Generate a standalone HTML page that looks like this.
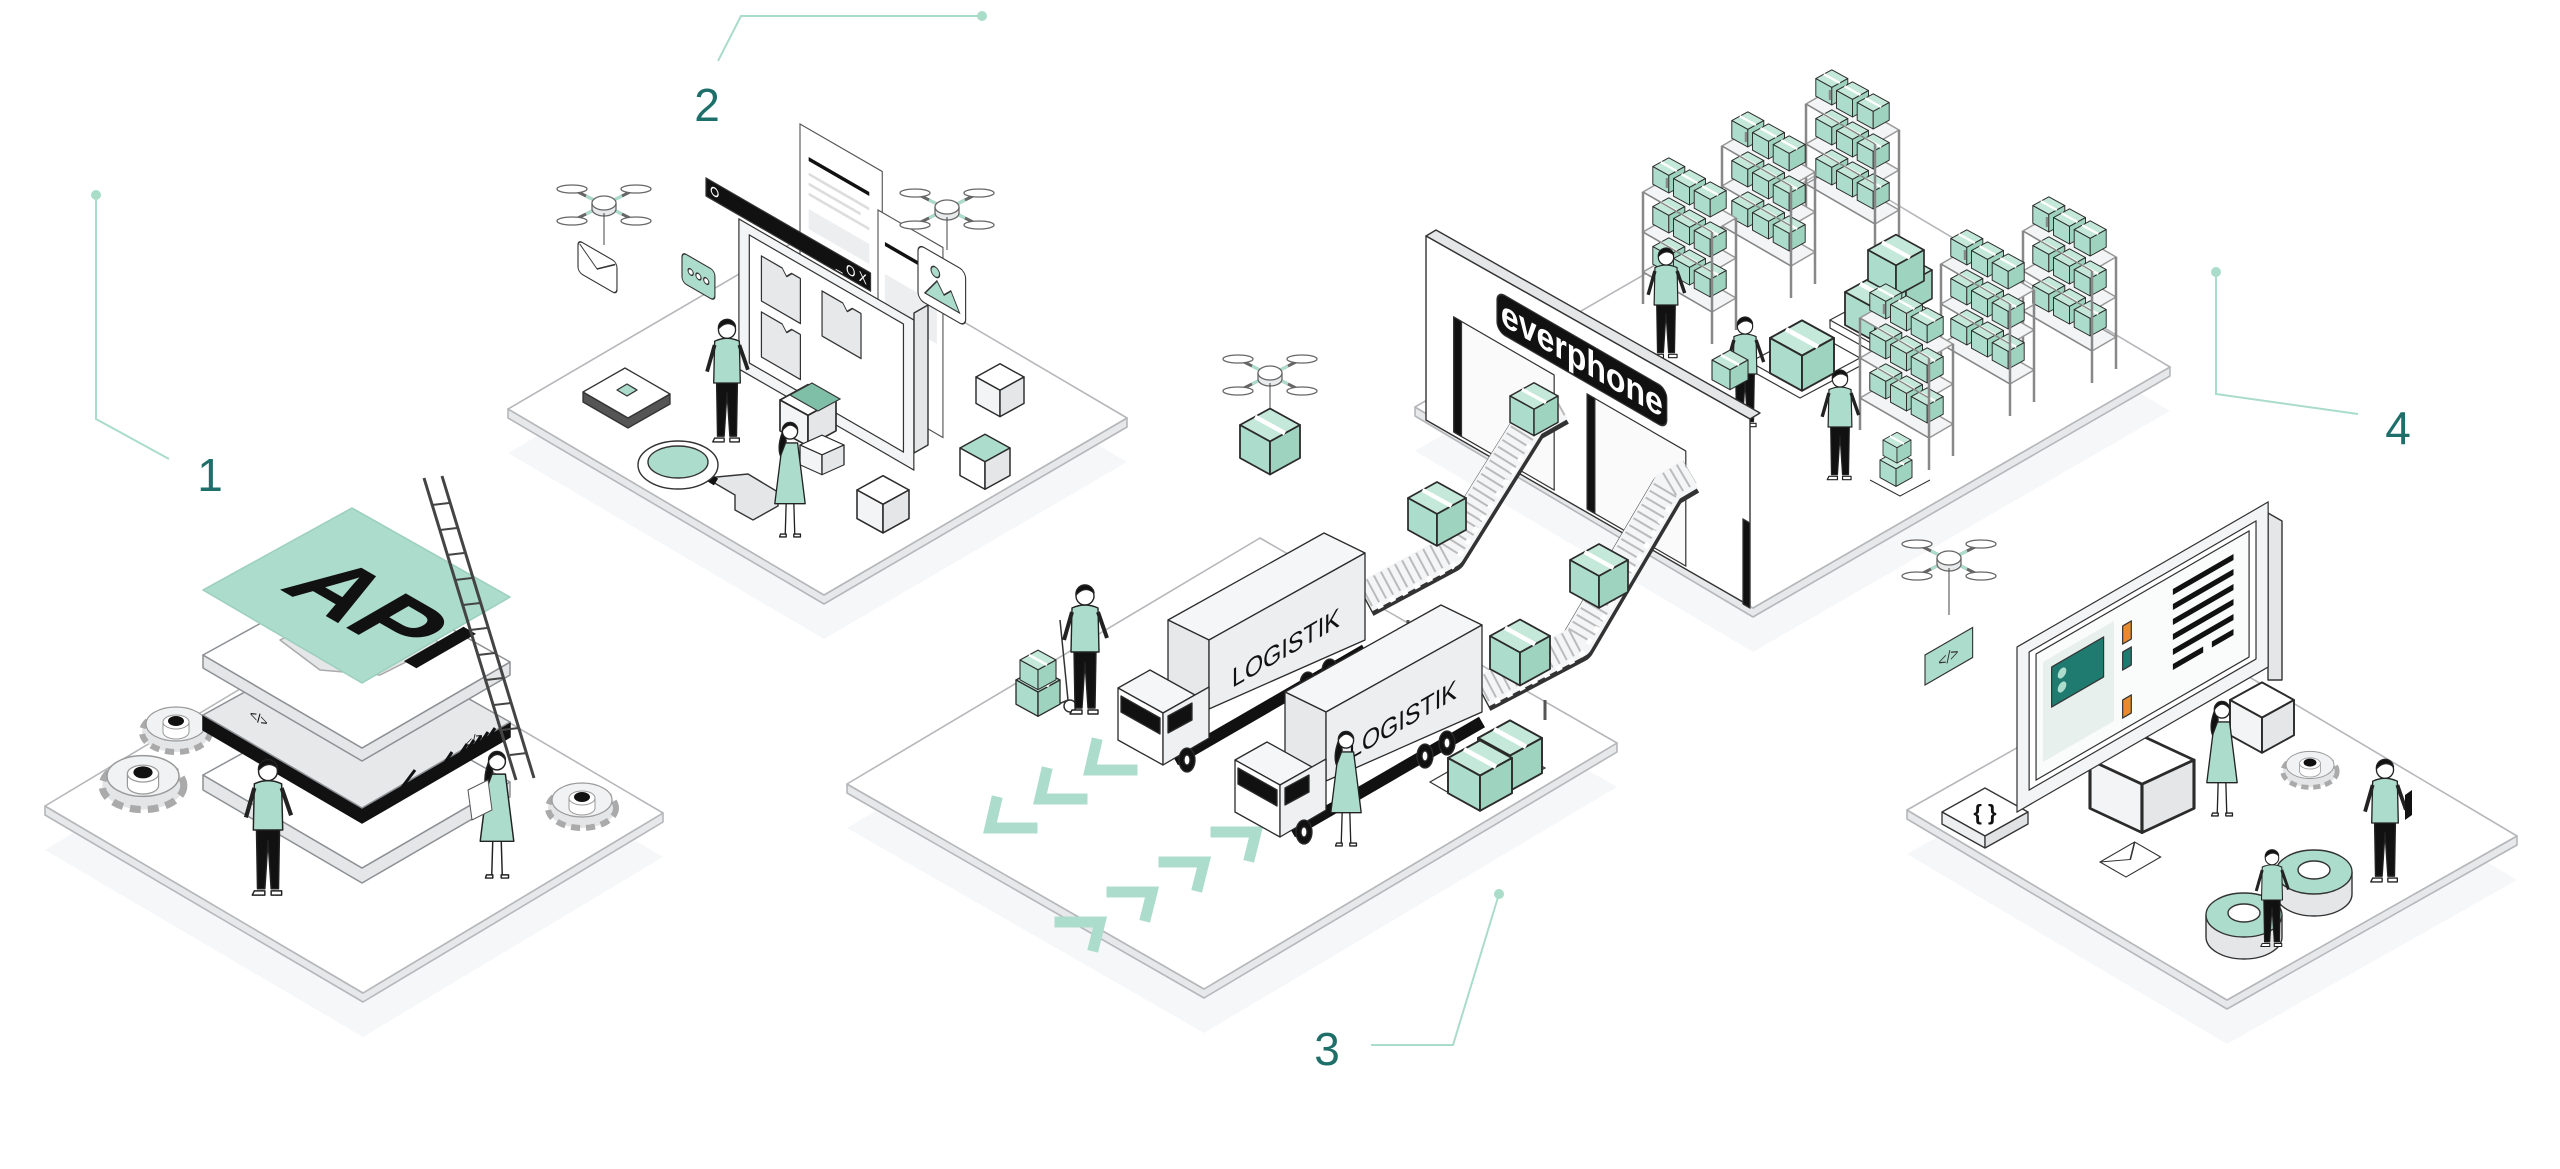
<!DOCTYPE html>
<html><head><meta charset="utf-8"><style>
html,body{margin:0;padding:0;background:#fff;}
svg{display:block;}
text{font-family:"Liberation Sans",sans-serif;}
</style></head><body>
<svg width="2560" height="1169" viewBox="0 0 2560 1169" xmlns="http://www.w3.org/2000/svg">
<defs>
<g id="gb" stroke="#2b2b2b" stroke-width="1.2" stroke-linejoin="round">
<path d="M0,0 L20,-11 L40,0 L20,11Z" fill="#c4e9db"/>
<path d="M0,0 L20,11 L20,33 L0,22Z" fill="#acdccb"/>
<path d="M20,11 L40,0 L40,22 L20,33Z" fill="#9ed3bf"/>
<path d="M10,-5.5 L30,5.5" stroke="#fff" stroke-width="3"/>
</g>
<g id="wb" stroke="#2b2b2b" stroke-width="1.2" stroke-linejoin="round">
<path d="M0,0 L20,-11 L40,0 L20,11Z" fill="#fff"/>
<path d="M0,0 L20,11 L20,33 L0,22Z" fill="#f3f4f5"/>
<path d="M20,11 L40,0 L40,22 L20,33Z" fill="#e4e6e8"/>
</g>
<g id="gtop" stroke="#2b2b2b" stroke-width="1.2" stroke-linejoin="round">
<path d="M0,0 L20,-11 L40,0 L20,11Z" fill="#acdccb"/>
<path d="M0,0 L20,11 L20,33 L0,22Z" fill="#fff"/>
<path d="M20,11 L40,0 L40,22 L20,33Z" fill="#e4e6e8"/>
</g>
<g id="man" stroke="#222" stroke-width="1.4" stroke-linejoin="round">
<path d="M-11,-62 L-10,-4 L-3,-4 L0,-50 L3,-4 L10,-4 L11,-62Z" fill="#111"/>
<path d="M-13,-2 h10 v4 h-12z M3,-2 h10 v4 h-10z" fill="#fff"/>
<path d="M-13,-104 Q0,-110 13,-104 L14,-60 L-14,-60Z" fill="#acdccb"/>
<path d="M-13,-100 L-21,-72 M13,-100 L22,-74" fill="none" stroke-width="4"/>
<circle cx="0" cy="-116" r="9" fill="#fff"/>
<path d="M-9,-117 A9,9 0 0 1 9,-119 Q0,-127 -9,-117Z" fill="#111"/>
</g>
<g id="woman" stroke="#222" stroke-width="1.4" stroke-linejoin="round">
<path d="M-4,-36 L-5,-2 M4,-36 L5,-2" fill="none"/>
<path d="M-10,-2 h6 v3 h-7z M4,-2 h7 v3 h-7z" fill="#fff"/>
<path d="M-8,-98 L8,-98 L16,-34 L-16,-34Z" fill="#acdccb"/>
<path d="M-7,-112 Q-14,-95 -10,-84 L-4,-100Z" fill="#111"/>
<circle cx="0" cy="-110" r="8" fill="#fff"/>
<path d="M-8,-111 A8,8 0 0 1 8,-112 Q0,-122 -8,-111Z" fill="#111"/>
</g>
<g id="drone" stroke="#666" stroke-width="1.3" fill="#fff">
<path d="M-32,-16 L32,16 M-32,16 L32,-16" stroke-width="3" fill="none"/>
<path d="M-18,-9 L-8,-4 M18,-9 L8,-4 M-18,9 L-8,4 M18,9 L8,4" stroke="#acdccb" stroke-width="3"/>
<ellipse cx="-32" cy="-16" rx="15" ry="4"/><ellipse cx="32" cy="-16" rx="15" ry="4"/>
<ellipse cx="-32" cy="16" rx="15" ry="4"/><ellipse cx="32" cy="16" rx="15" ry="4"/>
<path d="M-12,-2 v6 a12,7 0 0 0 24,0 v-6" fill="#e8eaec"/>
<ellipse cx="0" cy="-2" rx="12" ry="7"/>
</g>
<g id="gear">
<ellipse cx="0" cy="8" rx="34" ry="20" fill="#e3e5e7" stroke="#aaa" stroke-width="6" stroke-dasharray="9 6"/>
<ellipse cx="0" cy="0" rx="30" ry="17" fill="#f1f2f3" stroke="#999" stroke-width="1.2"/>
<path d="M-13,-2 v10 a13,7 0 0 0 26,0 v-10" fill="#fff" stroke="#999"/>
<ellipse cx="0" cy="-2" rx="13" ry="7" fill="#fff" stroke="#999"/>
<ellipse cx="0" cy="-3" rx="8" ry="5" fill="#111"/>
</g>
<g id="shelf">
<g stroke="#999" stroke-width="1.5" fill="#f3f4f5">
<path d="M0,0 L69,40 L93,26 L24,-14Z"/>
<path d="M0,40 L69,80 L93,66 L24,26Z"/>
<path d="M0,80 L69,120 L93,106 L24,66Z"/>
</g>
<use href="#gb" transform="translate(9.8,-25.4) scale(.8)"/><use href="#gb" transform="translate(30.5,-13.4) scale(.8)"/><use href="#gb" transform="translate(51.2,-1.4) scale(.8)"/>
<use href="#gb" transform="translate(9.8,14.6) scale(.8)"/><use href="#gb" transform="translate(30.5,26.6) scale(.8)"/><use href="#gb" transform="translate(51.2,38.6) scale(.8)"/>
<use href="#gb" transform="translate(9.8,54.6) scale(.8)"/><use href="#gb" transform="translate(30.5,66.6) scale(.8)"/><use href="#gb" transform="translate(51.2,78.6) scale(.8)"/>
<g stroke="#888" stroke-width="2.5" fill="none">
<path d="M0,0 V112 M69,40 V152 M93,26 V138 M24,-14 V-4"/>
<path d="M0,0 L69,40 M0,40 L69,80 M0,80 L69,120" stroke-width="1.5"/>
</g>
</g>
<g id="truck" stroke="#2b2b2b" stroke-width="1.3" stroke-linejoin="round">
<path d="M1175,760 L1365,650" stroke="#111" stroke-width="12"/>
<path d="M1168,620 L1324,533 L1365,553 L1209,640Z" fill="#f5f6f7"/>
<path d="M1168,620 L1209,640 L1209,709 L1168,689Z" fill="#e6e8ea"/>
<path d="M1209,640 L1365,553 L1365,640 L1209,709Z" fill="#eceef0"/>
<path d="M1118,688 L1150,670 L1195,695 L1163,713Z" fill="#f5f6f7"/>
<path d="M1118,688 L1163,713 L1163,765 L1118,740Z" fill="#fff"/>
<path d="M1163,713 L1209,687 L1209,738 L1163,765Z" fill="#eef0f1"/>
<path d="M1121,696 L1160,718 L1160,734 L1121,712Z" fill="#111"/>
<path d="M1168,716 L1192,703 L1192,720 L1168,733Z" fill="#111"/>
<ellipse cx="1187" cy="760" rx="8" ry="12" fill="#111"/><ellipse cx="1187" cy="760" rx="3" ry="5" fill="#fff"/>
<ellipse cx="1308" cy="684" rx="8" ry="12" fill="#111"/><ellipse cx="1308" cy="684" rx="3" ry="5" fill="#fff"/>
<ellipse cx="1330" cy="671" rx="8" ry="12" fill="#111"/><ellipse cx="1330" cy="671" rx="3" ry="5" fill="#fff"/>
</g>
</defs>

<g stroke="#a9dcc9" stroke-width="2" fill="none">
<path d="M96,195 V419 L169,459"/>
<path d="M718,61 L741,16 H982"/>
<path d="M1499,894 L1453,1045 H1371"/>
<path d="M2216,272 V394 L2358,414"/>
</g>
<g fill="#a9dcc9"><circle cx="96" cy="195" r="5"/><circle cx="982" cy="16" r="5"/><circle cx="1499" cy="894" r="5"/><circle cx="2216" cy="272" r="5"/></g>
<g fill="#1e6f6a" font-size="46" text-anchor="middle">
<text x="210" y="491">1</text><text x="707" y="121">2</text><text x="1327" y="1065">3</text><text x="2398" y="444">4</text>
</g>

<g fill="#f6f7f9">
<path d="M45,850 L345,670 L663,857 L363,1037Z"/>
<path d="M508,453 L811,276 L1127,462 L824,639Z"/>
<path d="M847,828 L1260,582 L1617,787 L1204,1033Z"/>
<path d="M1415,451 L1832,210 L2170,411 L1753,652Z"/>
<path d="M1907,854 L2197,690 L2517,880 L2227,1044Z"/>
</g>

<g stroke="#b5b7ba" stroke-width="1.6" stroke-linejoin="round">
<path d="M45,806 L363,993 L663,813 L663,822 L363,1002 L45,815Z" fill="#e6e8ea"/>
<path d="M45,806 L345,626 L663,813 L363,993Z" fill="#fff"/>
</g>
<use href="#gear" transform="translate(176,724)"/>
<use href="#gear" transform="translate(143,776) scale(1.2)"/>
<use href="#gear" transform="translate(582,800)"/>
<g stroke="#8d9094" stroke-width="1.5" stroke-linejoin="round">
<g transform="translate(0,185)"><path d="M203,590 L362,683 L510,597 L510,612 L362,698 L203,605Z" fill="#e4e6e8"/><path d="M203,590 L352,508 L510,597 L362,683Z" fill="#fff"/></g>
<g transform="translate(0,125)"><path d="M203,590 L362,683 L510,597 L510,612 L362,698 L203,605Z" fill="#111" stroke="#111"/><path d="M203,590 L352,508 L510,597 L362,683Z" fill="#e6e8ea"/></g>
<g transform="translate(0,65)"><path d="M203,590 L362,683 L510,597 L510,610 L362,696 L203,603Z" fill="#e4e6e8"/><path d="M203,590 L352,508 L510,597 L362,683Z" fill="#fff"/></g>
<path d="M280,615 L330,590 L380,612 L420,595 L440,620 L380,650 L320,645Z" fill="#e4e6e8" stroke="#aaa" transform="translate(0,25)"/>
<path d="M203,590 L352,508 L510,597 L362,683Z" fill="#acdccb" stroke="#9ccfbd"/>
</g>
<text transform="matrix(0.866,0.5,-0.866,0.5,350,630)" font-family="Liberation Mono" font-weight="bold" font-size="100" text-anchor="middle" fill="#111">API</text>
<g stroke="#111" stroke-width="3">
<path d="M400,790 L415,770 M408,795 L423,775 M440,770 L452,752 M455,762 L467,744 M462,758 L474,740 M469,754 L481,736 M476,750 L488,732 M483,746 L495,728"/>
</g>
<text transform="matrix(0.866,0.5,0,1,250,718)" font-family="Liberation Mono" font-size="14" fill="#111">&lt;/&gt;</text>
<text transform="matrix(0.866,-0.5,0,1,465,750)" font-family="Liberation Mono" font-size="14" fill="#111">&lt;/&gt;</text>
<g stroke="#444" stroke-width="2" fill="#fff">
<path d="M424,478 L516,780 M442,476 L534,778" fill="none" stroke-width="3"/>
<path d="M432,505 L449,503 M440,530 L457,528 M447,555 L464,553 M455,580 L472,578 M463,605 L480,603 M470,630 L487,628 M478,655 L495,653 M486,680 L503,678 M494,705 L511,703 M502,730 L519,728 M510,755 L527,753" fill="none"/>
</g>
<use href="#man" transform="translate(268,893) scale(1.05)"/>
<use href="#woman" transform="translate(497,877) scale(1.05)"/>
<path d="M468,790 L488,780 L492,810 L472,820Z" fill="#fff" stroke="#555"/>

<g stroke="#b5b7ba" stroke-width="1.6" stroke-linejoin="round">
<path d="M508,409 L824,595 L1127,418 L1127,427 L824,604 L508,418Z" fill="#e6e8ea"/>
<path d="M508,409 L811,232 L1127,418 L824,595Z" fill="#fff"/>
</g>
<g stroke="#555" stroke-width="1.3">
<g transform="matrix(0.866,0.5,0,1,800,164)"><rect x="0" y="-40" width="95" height="170" fill="#fff"/><path d="M10,-10 H80" stroke="#111" stroke-width="4"/><path d="M10,5 H80 M10,15 H70 M10,25 H80" stroke="#ddd" stroke-width="3"/><rect x="10" y="40" width="70" height="20" fill="#eceef0" stroke="none"/></g>
<g transform="matrix(0.866,0.5,0,1,878,250)"><rect x="0" y="-40" width="75" height="190" fill="#fff"/><path d="M8,-10 H70" stroke="#111" stroke-width="4"/><rect x="8" y="20" width="60" height="40" fill="#eceef0" stroke="none"/></g>
</g>
<g stroke="#333" stroke-width="1.4" stroke-linejoin="round">
<path d="M914,313 L928,305 L928,445 L914,453Z" fill="#e4e6e8"/>
<g transform="matrix(0.866,0.5,0,1,706,200)">
<rect x="38" y="0" width="202" height="150" fill="#f3f4f5"/>
<rect x="50" y="10" width="178" height="128" fill="#fff"/>
<path d="M64,24 h24 l5,6 l6,-6 h10 v45 h-45Z" fill="#e6e8ea"/>
<path d="M134,24 h24 l5,6 l6,-6 h10 v45 h-45Z" fill="#e6e8ea"/>
<path d="M64,80 h24 l5,6 l6,-6 h10 v45 h-45Z" fill="#e6e8ea"/>
<rect x="0" y="-22" width="190" height="18" fill="#111"/>
<text x="150" y="-8" fill="#fff" font-size="14" stroke="none">_ O X</text>
<circle cx="10" cy="-13" r="4" fill="none" stroke="#fff"/>
</g>
</g>
<use href="#wb" transform="translate(780,400) scale(1.4)"/>
<g stroke="#333" stroke-width="1.2"><path d="M790,395 L812,383 L840,399 L818,411Z" fill="#7fbfa8"/></g>
<use href="#wb" transform="translate(800,445) scale(1.1,0.9)"/>
<use href="#drone" transform="translate(604,205)"/>
<path d="M604,213 V245" stroke="#444"/>
<g transform="matrix(0.866,0.5,0,1,578,240)" stroke="#333" stroke-width="1.3"><rect x="0" y="0" width="45" height="32" rx="5" fill="#fff"/><path d="M2,3 L22,18 L43,3" fill="none"/></g>
<use href="#drone" transform="translate(947,209)"/>
<path d="M947,217 V250" stroke="#444"/>
<g transform="matrix(0.866,0.5,0,1,918,244)" stroke="#333" stroke-width="1.3"><rect x="0" y="0" width="55" height="55" rx="7" fill="#fff"/><circle cx="20" cy="18" r="5" fill="#acdccb"/><path d="M8,45 L22,26 L30,36 L38,28 L48,45Z" fill="#acdccb"/></g>
<g transform="matrix(0.866,0.5,0,1,682,252)" stroke="#333" stroke-width="1.3"><rect x="0" y="0" width="38" height="30" rx="5" fill="#acdccb"/><circle cx="10" cy="15" r="3" fill="#fff"/><circle cx="19" cy="15" r="3" fill="#fff"/><circle cx="28" cy="15" r="3" fill="#fff"/></g>
<g stroke="#333" stroke-width="1.3" stroke-linejoin="round">
<path d="M583,392 L583,402 L628,428 L670,404 L670,394 L628,418Z" fill="#555"/>
<path d="M583,392 L625,368 L670,394 L628,418Z" fill="#fff"/>
<path d="M617,390 L627,384 L637,390 L627,396Z" fill="#acdccb"/>
</g>
<g stroke="#333" stroke-width="1.4">
<path d="M706,478 L735,495 L735,510 L753,520 L778,506 L778,492 L748,474 Z" fill="#e4e6e8"/>
<path d="M700,472 L716,482" stroke="#111" stroke-width="8"/>
<ellipse cx="678" cy="465" rx="40" ry="24" fill="#fff"/>
<ellipse cx="678" cy="462" rx="30" ry="16" fill="#acdccb"/>
</g>
<use href="#wb" transform="translate(976,377) scale(1.2)"/>
<use href="#gtop" transform="translate(960,448) scale(1.25)"/>
<use href="#wb" transform="translate(857,490) scale(1.3)"/>
<use href="#man" transform="translate(727,440) scale(0.95)"/>
<use href="#woman" transform="translate(790,536) scale(0.95)"/>

<g stroke="#b5b7ba" stroke-width="1.6" stroke-linejoin="round">
<path d="M1415,407 L1753,608 L2170,367 L2170,376 L1753,617 L1415,416Z" fill="#e6e8ea"/>
<path d="M1415,407 L1832,166 L2170,367 L1753,608Z" fill="#fff"/>
</g>
<use href="#shelf" transform="translate(1806,104)"/>
<use href="#shelf" transform="translate(1722,146)"/>
<use href="#shelf" transform="translate(1643,192)"/>
<g stroke="#333" stroke-width="1.2" fill="#fff">
<path d="M1830,320 L1890,288 L1940,316 L1880,348Z M1830,320 V328 L1880,356 L1940,324 V316"/>
<path d="M1750,362 L1810,330 L1860,358 L1800,390Z M1750,362 V370 L1800,398 L1860,366 V358"/>
</g>
<use href="#gb" transform="translate(1845,292) scale(1.5)"/>
<use href="#gb" transform="translate(1880,270) scale(1.3)"/>
<use href="#gb" transform="translate(1868,250) scale(1.4)"/>
<use href="#gb" transform="translate(1770,338) scale(1.6)"/>
<use href="#shelf" transform="translate(2023,231)"/>
<use href="#shelf" transform="translate(1941,264)"/>
<use href="#shelf" transform="translate(1860,318)"/>
<use href="#man" transform="translate(1666,356) scale(0.85)"/>
<use href="#man" transform="translate(1745,425) scale(0.85)"/>
<use href="#gb" transform="translate(1712,360) scale(0.9)"/>
<use href="#man" transform="translate(1840,478) scale(0.85)"/>
<use href="#gb" transform="translate(1880,460) scale(0.8)"/>
<use href="#gb" transform="translate(1883,440) scale(0.7)"/>
<path d="M1870,480 L1900,496 L1930,480" stroke="#333" fill="none"/>
<g stroke="#333" stroke-width="1.4" stroke-linejoin="round">
<path d="M1426,236 L1436,230 L1760,413 L1750,419Z" fill="#e4e6e8"/>
<path d="M1426,236 L1750,419 L1750,606 L1426,420Z" fill="#fff"/>
<g transform="matrix(0.866,0.5,0,1,1426,236)">
<rect x="32" y="65" width="116" height="115" fill="#fafafa"/>
<rect x="32" y="65" width="9" height="115" fill="#111"/>
<rect x="186" y="65" width="114" height="115" fill="#fafafa"/>
<rect x="186" y="65" width="9" height="115" fill="#111"/>
<rect x="366" y="100" width="8" height="85" fill="#111"/>
<rect x="82" y="14" width="196" height="40" rx="9" fill="#111"/>
<text x="180" y="45" text-anchor="middle" font-size="37" font-weight="bold" fill="#fff" stroke="none">everphone</text>
</g>
</g>

<g stroke="#b5b7ba" stroke-width="1.6" stroke-linejoin="round">
<path d="M847,784 L1204,989 L1617,743 L1617,752 L1204,998 L847,793Z" fill="#e6e8ea"/>
<path d="M847,784 L1260,538 L1617,743 L1204,989Z" fill="#fff"/>
</g>
<g stroke="#acdccb" stroke-width="11" fill="none" stroke-linecap="square" stroke-linejoin="miter">
<path d="M996,802 L990,828 L1032,828"/><path d="M1046,773 L1040,799 L1082,799"/><path d="M1096,744 L1090,770 L1132,770"/><path d="M1146,715 L1140,741 L1182,741"/>
<path d="M1060,922 L1100,922 L1094,946"/><path d="M1112,892 L1152,892 L1146,916"/><path d="M1164,862 L1204,862 L1198,886"/><path d="M1216,832 L1256,832 L1250,856"/>
</g>
<g fill="none" stroke-linejoin="round">
<path d="M1365,600 L1449,555 L1530,425 L1560,408" stroke="#333" stroke-width="36"/>
<path d="M1365,597 L1449,552 L1530,422 L1560,405" stroke="#f4f5f6" stroke-width="32"/>
<path d="M1365,595 L1449,550 L1530,420 L1560,403" stroke="#bbb" stroke-width="26" stroke-dasharray="2 6"/>
<path d="M1365,614 L1452,567 L1534,438" stroke="#fff" stroke-width="5" stroke-dasharray="6 8"/>
<path d="M1482,695 L1577,645 L1668,490 L1690,477" stroke="#333" stroke-width="36"/>
<path d="M1482,692 L1577,642 L1668,487 L1690,474" stroke="#f4f5f6" stroke-width="32"/>
<path d="M1482,690 L1577,640 L1668,485 L1690,472" stroke="#bbb" stroke-width="26" stroke-dasharray="2 6"/>
<path d="M1482,709 L1580,657 L1672,503" stroke="#fff" stroke-width="5" stroke-dasharray="6 8"/>
</g>
<path d="M1408,620 V640 M1545,700 V720" stroke="#555" stroke-width="3"/>
<use href="#gb" transform="translate(1510,396) scale(1.2)"/>
<use href="#gb" transform="translate(1408,498) scale(1.45)"/>
<use href="#gb" transform="translate(1570,560) scale(1.45)"/>
<use href="#gb" transform="translate(1490,636) scale(1.5)"/>
<use href="#truck"/>
<text transform="matrix(0.866,-0.5,0,1,1232,688)" font-family="Liberation Mono" font-size="27" fill="#111">LOGISTIK</text>
<use href="#truck" transform="translate(117,72)"/>
<text transform="matrix(0.866,-0.5,0,1,1349,760)" font-family="Liberation Mono" font-size="27" fill="#111">LOGISTIK</text>
<g stroke="#333" stroke-width="1.2" fill="#fff"><path d="M1430,782 L1500,742 L1545,768 L1475,808Z"/></g>
<use href="#gb" transform="translate(1478,738) scale(1.6)"/>
<use href="#gb" transform="translate(1448,758) scale(1.6)"/>
<g stroke="#333" stroke-width="1.5" fill="none"><path d="M1060,620 L1068,700 L1040,712"/><circle cx="1070" cy="706" r="6" fill="#fff"/></g>
<use href="#gb" transform="translate(1016,680) scale(1.1)"/>
<use href="#gb" transform="translate(1020,660) scale(0.9)"/>
<use href="#man" transform="translate(1085,712) scale(1.0)"/>
<use href="#woman" transform="translate(1346,845) scale(0.95)"/>
<use href="#drone" transform="translate(1270,375)"/>
<path d="M1270,383 V412" stroke="#444"/>
<use href="#gb" transform="translate(1240,425) scale(1.5)"/>

<g stroke="#b5b7ba" stroke-width="1.6" stroke-linejoin="round">
<path d="M1907,810 L2227,1000 L2517,836 L2517,845 L2227,1009 L1907,819Z" fill="#e6e8ea"/>
<path d="M1907,810 L2197,646 L2517,836 L2227,1000Z" fill="#fff"/>
</g>
<use href="#drone" transform="translate(1949,560)"/>
<path d="M1949,568 V615" stroke="#444"/>
<g transform="matrix(0.866,-0.5,0,1,1925,655)" stroke="#333" stroke-width="1.3"><rect x="0" y="0" width="55" height="30" fill="#acdccb"/><text x="27" y="21" text-anchor="middle" font-family="Liberation Mono" font-size="16" fill="#333" stroke="none">&lt;/&gt;</text></g>
<g stroke="#333" stroke-width="1.3" stroke-linejoin="round">
<path d="M1942,812 L1985,788 L2028,812 L1985,836Z" fill="#fff"/>
<path d="M1942,812 L1985,836 L1985,848 L1942,824Z" fill="#eceef0"/>
<path d="M1985,836 L2028,812 L2028,824 L1985,848Z" fill="#e0e2e4"/>
</g>
<text x="1985" y="820" text-anchor="middle" font-size="22" font-weight="bold" fill="#111">{ }</text>
<use href="#wb" transform="translate(2090,760) scale(2.6,2.2)"/>
<g stroke="#333" stroke-width="1.4" stroke-linejoin="round">
<path d="M2268,513 L2282,521 L2282,680 L2268,680Z" fill="#e4e6e8"/>
<g transform="matrix(0.866,-0.5,0,1,2017,647)">
<rect x="0" y="0" width="290" height="165" fill="#f3f4f5"/>
<rect x="14" y="12" width="262" height="138" fill="#fff"/>
<rect x="22" y="18" width="246" height="126" fill="#fafbfb"/>
<rect x="30" y="30" width="82" height="100" fill="#e8f0ee" stroke="none"/>
<rect x="40" y="40" width="60" height="40" fill="#1f7a70"/>
<circle cx="52" cy="52" r="5" fill="#acdccb" stroke="none"/><circle cx="52" cy="66" r="5" fill="#acdccb" stroke="none"/>
<rect x="122" y="40" width="10" height="18" fill="#e88a2d"/>
<rect x="122" y="66" width="10" height="18" fill="#1f7a70"/>
<rect x="122" y="114" width="10" height="18" fill="#e88a2d"/>
<path d="M180,35 H250 M180,50 H250 M180,65 H250 M180,80 H250 M180,95 H250 M180,110 H215 M225,110 H250" stroke="#111" stroke-width="6"/>
</g>
</g>
<use href="#wb" transform="translate(2230,700) scale(1.6)"/>
<use href="#gear" transform="translate(2310,765) scale(0.8)"/>
<g transform="matrix(0.866,-0.5,0.866,0.5,2100,862)" stroke="#333" stroke-width="1.3"><rect x="0" y="0" width="40" height="30" fill="#fff"/><path d="M0,0 L20,15 L40,0" fill="none"/></g>
<g stroke="#333" stroke-width="1.4">
<path d="M2206,915 v22 a38,22 0 0 0 76,0 v-22" fill="#e4e6e8"/>
<ellipse cx="2244" cy="915" rx="38" ry="22" fill="#acdccb"/>
<ellipse cx="2244" cy="913" rx="16" ry="9" fill="#fff"/>
<path d="M2276,872 v22 a38,22 0 0 0 76,0 v-22" fill="#e4e6e8"/>
<ellipse cx="2314" cy="872" rx="38" ry="22" fill="#acdccb"/>
<ellipse cx="2314" cy="870" rx="16" ry="9" fill="#fff"/>
</g>
<use href="#man" transform="translate(2272,945) scale(0.75)"/>
<use href="#woman" transform="translate(2222,815) scale(0.95)"/>
<use href="#man" transform="translate(2385,880) scale(0.95)"/>
<path d="M2405,795 L2412,790 L2412,815 L2405,820Z" fill="#111"/>
</svg>
</body></html>
